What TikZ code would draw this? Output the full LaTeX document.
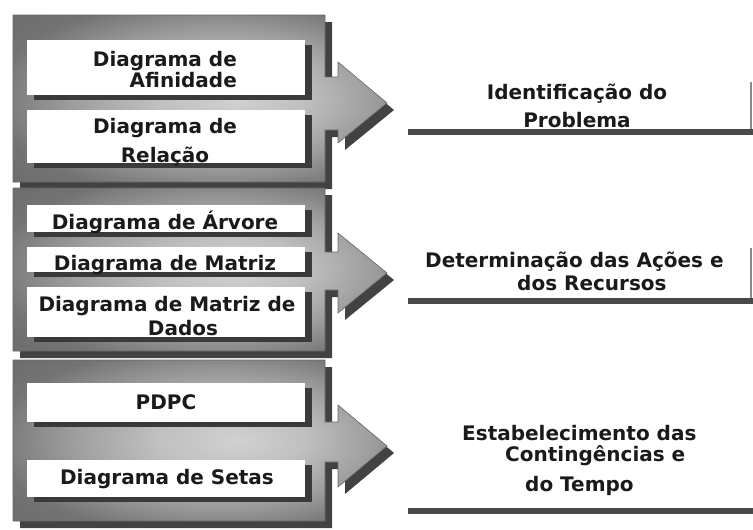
\documentclass[tikz,border=0pt]{standalone}
\usepackage{fontspec}
\setmainfont{DejaVu Sans}
\usetikzlibrary{shadows}
\definecolor{frameshadow}{HTML}{424242}
\definecolor{boxshadow}{HTML}{3A3A3A}
\definecolor{textcol}{HTML}{1A1A1A}
\definecolor{linecol}{HTML}{4A4A4A}
\pgfdeclareradialshading{metal}{\pgfpoint{5bp}{0bp}}{color(0bp)=(black!18); color(10bp)=(black!25); color(20bp)=(black!38); color(30bp)=(black!55); color(50bp)=(black!62)}
\newcommand\drawpanel[7]{%
  \fill[frameshadow,shift={(7,7)}] (13,#1) -- (325,#1) -- (325,#3) -- (338,#3) -- (338,#5) -- (387,#7) -- (338,#6) -- (338,#4) -- (325,#4) -- (325,#2) -- (13,#2) -- cycle;
  \shade[shading=metal, draw=black!60, line width=0.6pt] (13,#1) -- (325,#1) -- (325,#3) -- (338,#3) -- (338,#5) -- (387,#7) -- (338,#6) -- (338,#4) -- (325,#4) -- (325,#2) -- (13,#2) -- cycle;
}
\begin{document}
\begin{tikzpicture}[x=1pt,y=-1pt,
  wbox/.style={fill=white, draw=none, inner sep=0pt, minimum width=278pt,
    general shadow={fill=boxshadow, shadow xshift=7pt, shadow yshift=-5pt}},
  lbl/.style={text=textcol, inner sep=0pt, font=\fontsize{20}{21}\selectfont\bfseries},
  rline/.style={draw=linecol, line width=6pt},
  vline/.style={draw=black!45, line width=1.2pt}]
\useasboundingbox (0,0) rectangle (753,530);
\fill[white] (0,0) rectangle (753,530);

\drawpanel{15}{182}{77}{130}{62}{143}{103}
\drawpanel{188}{351}{252}{290}{233}{313}{273}
\drawpanel{360}{521}{422}{462}{405}{487}{446}

\node[wbox, minimum height=55pt] (b1) at (166,67.5) {};
\node[wbox, minimum height=53pt] (b2) at (166,136.5) {};
\node[wbox, minimum height=27pt] (b3) at (166,218.5) {};
\node[wbox, minimum height=25pt] (b4) at (166,259.5) {};
\node[wbox, minimum height=50pt] (b5) at (166,312) {};
\node[wbox, minimum height=39pt] (b6) at (166,402.5) {};
\node[wbox, minimum height=37pt] (b7) at (166,478.5) {};

\node[lbl, align=right, anchor=north east] (t1) at (237,50.8) {Diagrama de\\Afinidade};
\node[lbl, align=center, anchor=north] (t2) at (165,117.8) {Diagrama de\\[8pt]Relação};
\node[lbl, anchor=base] (t3) at (165,229) {Diagrama de Árvore};
\node[lbl, anchor=base] (t4) at (165,270) {Diagrama de Matriz};
\node[lbl, align=center, anchor=north] (t5) at (167,295.8) {Diagrama de Matriz de\\[3pt]\hspace*{32pt}Dados};
\node[lbl, anchor=base] (t6) at (166,409) {PDPC};
\node[lbl, anchor=base] (t7) at (167,484) {Diagrama de Setas};

\node[lbl, align=center, anchor=north] (r1) at (577,83.5) {Identificação do\\[7pt]Problema};
\node[lbl, align=left, anchor=north west] (r2) at (425,251.5) {Determinação das Ações e\\[2pt]\hspace*{92pt}dos Recursos};
\node[lbl, align=left, anchor=north west] (r3) at (462,425.5) {Estabelecimento das\\\hspace*{43pt}Contingências e\\[9pt]\hspace*{63pt}do Tempo};

\coordinate (l1a) at (408,132); \coordinate (l1b) at (753,132);
\coordinate (l2a) at (408,301); \coordinate (l2b) at (753,301);
\coordinate (l3a) at (408,511); \coordinate (l3b) at (753,511);
\draw[rline] (l1a) -- (l1b);
\draw[rline] (l2a) -- (l2b);
\draw[rline] (l3a) -- (l3b);
\coordinate (v1a) at (751,82); \coordinate (v1b) at (751,129);
\coordinate (v2a) at (751,248); \coordinate (v2b) at (751,298);
\draw[vline] (v1a) -- (v1b);
\draw[vline] (v2a) -- (v2b);
\end{tikzpicture}
\end{document}
